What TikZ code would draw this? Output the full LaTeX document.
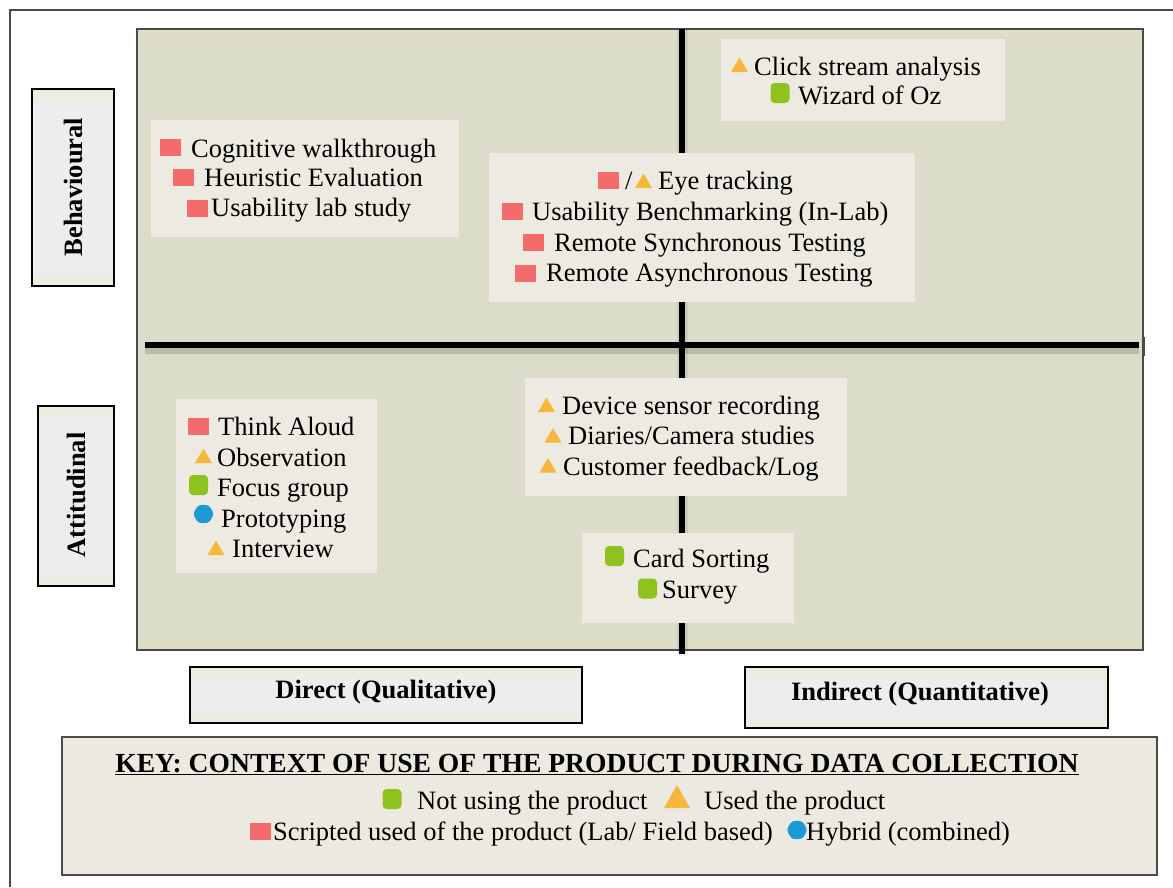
\documentclass[tikz,border=0pt]{standalone}
\usepackage{fontspec}
\setmainfont{Liberation Serif}
\definecolor{panelc}{HTML}{DCDCCB}
\definecolor{panelband}{HTML}{E2DDC9}
\definecolor{itemc}{HTML}{EDEBE1}
\definecolor{lblc}{HTML}{EDEDED}
\definecolor{lblband}{HTML}{EEEBE0}
\definecolor{keyc}{HTML}{ECEAE0}
\definecolor{redc}{HTML}{F36B6B}
\definecolor{orc}{HTML}{F6B73C}
\definecolor{grc}{HTML}{8DC21F}
\definecolor{bluc}{HTML}{1C9AD6}
\definecolor{edgec}{HTML}{4A4A4A}
\begin{document}
\begin{tikzpicture}[x=1pt,y=-1pt,
  txt/.style={anchor=base west, inner sep=0pt, font=\fontsize{26.5}{30}\selectfont},
  lbl/.style={inner sep=0pt, font=\fontsize{26.5}{30}\selectfont\bfseries},
  redsq/.pic={\fill[redc] (-10.5,-8.5) rectangle (10.5,8.5);},
  tri/.pic={\fill[orc] (-8.5,7) -- (8.5,7) -- (0,-7.5) -- cycle;},
  bigtri/.pic={\fill[orc] (-13,11) -- (13,11) -- (0,-12) -- cycle;},
  grsq/.pic={\fill[grc, rounded corners=4pt] (-9.5,-10) rectangle (9.5,10);},
  blu/.pic={\fill[bluc, rounded corners=3pt] (0:10.5) -- (60:10.5) -- (120:10.5) -- (180:10.5) -- (240:10.5) -- (300:10.5) -- cycle;}
]
\useasboundingbox (0,0) rectangle (1173,887);
% outer frame
\draw[edgec, line width=1.5pt] (10,887) -- (10,10) -- (1173,10);
% main panel
\fill[panelc] (137,29) rectangle (1143,650);
\fill[panelband] (137,29) rectangle (1143,37);
\fill[panelband] (137,643) rectangle (1143,650);
\draw[edgec, line width=1.2pt] (137,29) rectangle (1143,650);
% axes
\fill[black, opacity=0.07] (677,29) rectangle (688,656);
\draw[line width=6pt] (682,29) -- (682,654);
\fill[black, opacity=0.15] (145,348) rectangle (1139,354);
\draw[line width=6pt] (145,345) -- (1139,345);
\draw[edgec, line width=1.2pt] (1144,337) -- (1144,356);
% item boxes
\fill[itemc] (151,120) rectangle (459,237);
\fill[itemc] (489,153) rectangle (915,302);
\fill[itemc] (721,39) rectangle (1005,121);
\fill[itemc] (176,399) rectangle (377,573);
\fill[itemc] (525,378) rectangle (847,496);
\fill[itemc] (582,533) rectangle (794,623);
% label boxes
\fill[lblband] (32,89) rectangle (114,286);
\fill[lblc] (33,99) rectangle (113,276);
\draw[black, line width=1.2pt] (32,89) rectangle (114,286);
\fill[lblband] (38,406) rectangle (114,586);
\fill[lblc] (39,416) rectangle (113,577);
\draw[black, line width=1.2pt] (38,406) rectangle (114,586);
\fill[lblband] (190,667) rectangle (582,723);
\fill[lblc] (191,676) rectangle (581,713);
\draw[black, line width=1.2pt] (190,667) rectangle (582,723);
\fill[lblband] (745,667) rectangle (1108,728);
\fill[lblc] (746,676) rectangle (1104,718);
\draw[black, line width=1.2pt] (745,667) rectangle (1108,728);
% key box
\fill[keyc] (62,737) rectangle (1157,875);
\draw[edgec, line width=1.8pt] (62,737) rectangle (1157,875);

% labels
\node[lbl, rotate=90] (beh) at (73,187) {Behavioural};
\node[lbl, rotate=90] (att) at (76,495) {Attitudinal};
\node[lbl] (dir) at (386,692) {Direct (Qualitative)};
\node[lbl] (ind) at (920,694) {Indirect (Quantitative)};

% top-left quadrant
\pic at (170,147) {redsq};
\node[txt] (cog) at (191,157) {Cognitive walkthrough};
\pic at (183.5,177.5) {redsq};
\node[txt] (heu) at (204,186) {Heuristic Evaluation};
\pic at (197,208) {redsq};
\node[txt] (ulab) at (211,216) {Usability lab study};

% centre top
\pic at (608,180.5) {redsq};
\node[txt] (slash) at (625,189) {/};
\pic at (643.5,181) {tri};
\node[txt] (eye) at (658,189) {Eye tracking};
\pic at (512,211.5) {redsq};
\node[txt] (bench) at (532,220) {Usability Benchmarking (In-Lab)};
\pic at (533.5,242) {redsq};
\node[txt] (rsync) at (554,251) {Remote Synchronous Testing};
\pic at (525.5,273) {redsq};
\node[txt] (rasync) at (546,281) {Remote Asynchronous Testing};

% top right
\pic at (739.5,65) {tri};
\node[txt] (click) at (754,75) {Click stream analysis};
\pic at (780,93) {grsq};
\node[txt] (woz) at (798,104) {Wizard of Oz};

% bottom left
\pic at (198,426.5) {redsq};
\node[txt] (think) at (218,435) {Think Aloud};
\pic at (203.5,456) {tri};
\node[txt] (obs) at (217,466) {Observation};
\pic at (198.5,485) {grsq};
\node[txt] (focus) at (217,496) {Focus group};
\pic at (203.5,514) {blu};
\node[txt] (proto) at (221,527) {Prototyping};
\pic at (216,548) {tri};
\node[txt] (inter) at (232,557) {Interview};

% bottom centre
\pic at (546.5,405) {tri};
\node[txt] (dev) at (562,414) {Device sensor recording};
\pic at (553,435.5) {tri};
\node[txt] (diar) at (568,444) {Diaries/Camera studies};
\pic at (548,465.5) {tri};
\node[txt] (cust) at (563,475) {Customer feedback/Log};
\pic at (614.5,556) {grsq};
\node[txt] (card) at (633,567) {Card Sorting};
\pic at (647.5,588.5) {grsq};
\node[txt] (surv) at (662,598) {Survey};

% key
\node[lbl, anchor=base, font=\fontsize{27.6}{31}\selectfont\bfseries] (keyt) at (597,772) {\underline{KEY: CONTEXT OF USE OF THE PRODUCT DURING DATA COLLECTION}};
\pic at (392,799) {grsq};
\node[txt] (notuse) at (417,809) {Not using the product};
\pic at (677,797) {bigtri};
\node[txt] (used) at (704,809) {Used the product};
\pic at (260.5,831) {redsq};
\node[txt] (script) at (273,840) {Scripted used of the product (Lab/ Field based)};
\pic at (797,830) {blu};
\node[txt] (hyb) at (806,840) {Hybrid (combined)};
\end{tikzpicture}
\end{document}
